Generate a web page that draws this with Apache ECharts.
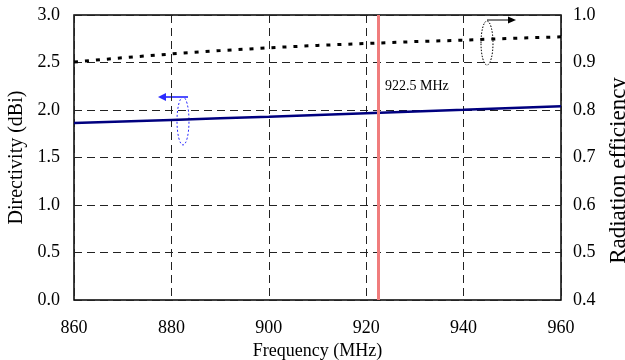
<!DOCTYPE html>
<html>
<head>
<meta charset="utf-8">
<script src="https://cdn.jsdelivr.net/npm/echarts@6/dist/echarts.min.js"></script>
<style>
  html, body { margin: 0; padding: 0; background: #fff; }
  #chart { width: 625px; height: 360px; }
</style>
</head>
<body>
<div id="chart"></div>
<script>
const freq = [860, 870, 880, 890, 900, 910, 920, 930, 940, 950, 960]
const directivity = [1.862, 1.879, 1.896, 1.913, 1.930, 1.948, 1.966, 1.984, 2.002, 2.021, 2.040]
const efficiency = [0.901, 0.910, 0.918, 0.925, 0.931, 0.936, 0.940, 0.944, 0.947, 0.951, 0.954]
const markFreq = 922.5

const font = '"Liberation Serif", "Times New Roman", serif'
const chart = echarts.init(document.getElementById('chart'))

const gridDash = { color: '#222', type: [8, 5], width: 1 }

const option = {
  animation: false,
  grid: {
    left: 74, right: 64, top: 15, bottom: 60,
    outerBoundsMode: 'none', containLabel: false,
    show: true, borderColor: '#000', borderWidth: 1.5, backgroundColor: 'transparent'
  },
  xAxis: {
    type: 'value', min: 860, max: 960, interval: 20,
    name: 'Frequency (MHz)', nameLocation: 'middle', nameGap: 42,
    nameTextStyle: { fontFamily: font, fontSize: 18, color: '#000' },
    axisLine: { show: false },
    axisTick: { show: false },
    axisLabel: { fontFamily: font, fontSize: 18, color: '#000', margin: 19 },
    splitLine: { show: true, lineStyle: gridDash }
  },
  yAxis: [
    {
      type: 'value', min: 0, max: 3, interval: 0.5,
      name: 'Directivity (dBi)', nameLocation: 'middle', nameGap: 47,
      nameTextStyle: { fontFamily: font, fontSize: 20, color: '#000' },
      axisLine: { show: false },
      axisTick: { show: false },
      axisLabel: { fontFamily: font, fontSize: 18, color: '#000', margin: 14,
        formatter: v => v.toFixed(1) },
      splitLine: { show: true, lineStyle: gridDash }
    },
    {
      type: 'value', min: 0.4, max: 1.0, interval: 0.1,
      name: 'Radiation efficiency', nameLocation: 'middle', nameGap: 46,
      nameTextStyle: { fontFamily: font, fontSize: 23, color: '#000', padding: [0, 26, 0, 0] },
      axisLine: { show: false },
      axisTick: { show: false },
      axisLabel: { fontFamily: font, fontSize: 18, color: '#000', margin: 12,
        formatter: v => v.toFixed(1) },
      splitLine: { show: false }
    }
  ],
  series: [
    {
      name: 'Directivity', type: 'line', yAxisIndex: 0, showSymbol: false,
      data: freq.map((f, i) => [f, directivity[i]]),
      lineStyle: { color: '#00007f', width: 2.5 },
      markLine: {
        silent: true, symbol: 'none', label: { show: false },
        lineStyle: { color: '#f07c7c', width: 3, type: 'solid' },
        data: [{ xAxis: markFreq }]
      },
      z: 3
    },
    {
      name: 'Radiation efficiency', type: 'line', yAxisIndex: 1, showSymbol: false,
      data: freq.map((f, i) => [f, efficiency[i]]),
      lineStyle: { color: '#000', width: 3, type: [4, 7] },
      z: 3
    }
  ],
  graphic: [
    { type: 'text', left: 385, top: 79,
      style: { text: markFreq + ' MHz', font: '14px ' + font, fill: '#000' } },
    // left annotation (directivity -> left axis)
    { type: 'ellipse', shape: { cx: 183, cy: 121, rx: 6, ry: 24 },
      style: { fill: 'none', stroke: '#2b2bff', lineWidth: 1, lineDash: [2, 2] } },
    { type: 'line', shape: { x1: 188, y1: 97, x2: 164, y2: 97 },
      style: { stroke: '#4f4fff', lineWidth: 2 } },
    { type: 'polygon', shape: { points: [[158, 97], [166, 93], [166, 101]] },
      style: { fill: '#2b2bff' } },
    // right annotation (efficiency -> right axis)
    { type: 'ellipse', shape: { cx: 487, cy: 43, rx: 6, ry: 22 },
      style: { fill: 'none', stroke: '#000', lineWidth: 1, lineDash: [1.5, 1.5] } },
    { type: 'line', shape: { x1: 487, y1: 20, x2: 510, y2: 20 },
      style: { stroke: '#000', lineWidth: 1 } },
    { type: 'polygon', shape: { points: [[516, 20], [508, 16.5], [508, 23.5]] },
      style: { fill: '#000' } }
  ]
}

chart.setOption(option)
</script>
</body>
</html>
